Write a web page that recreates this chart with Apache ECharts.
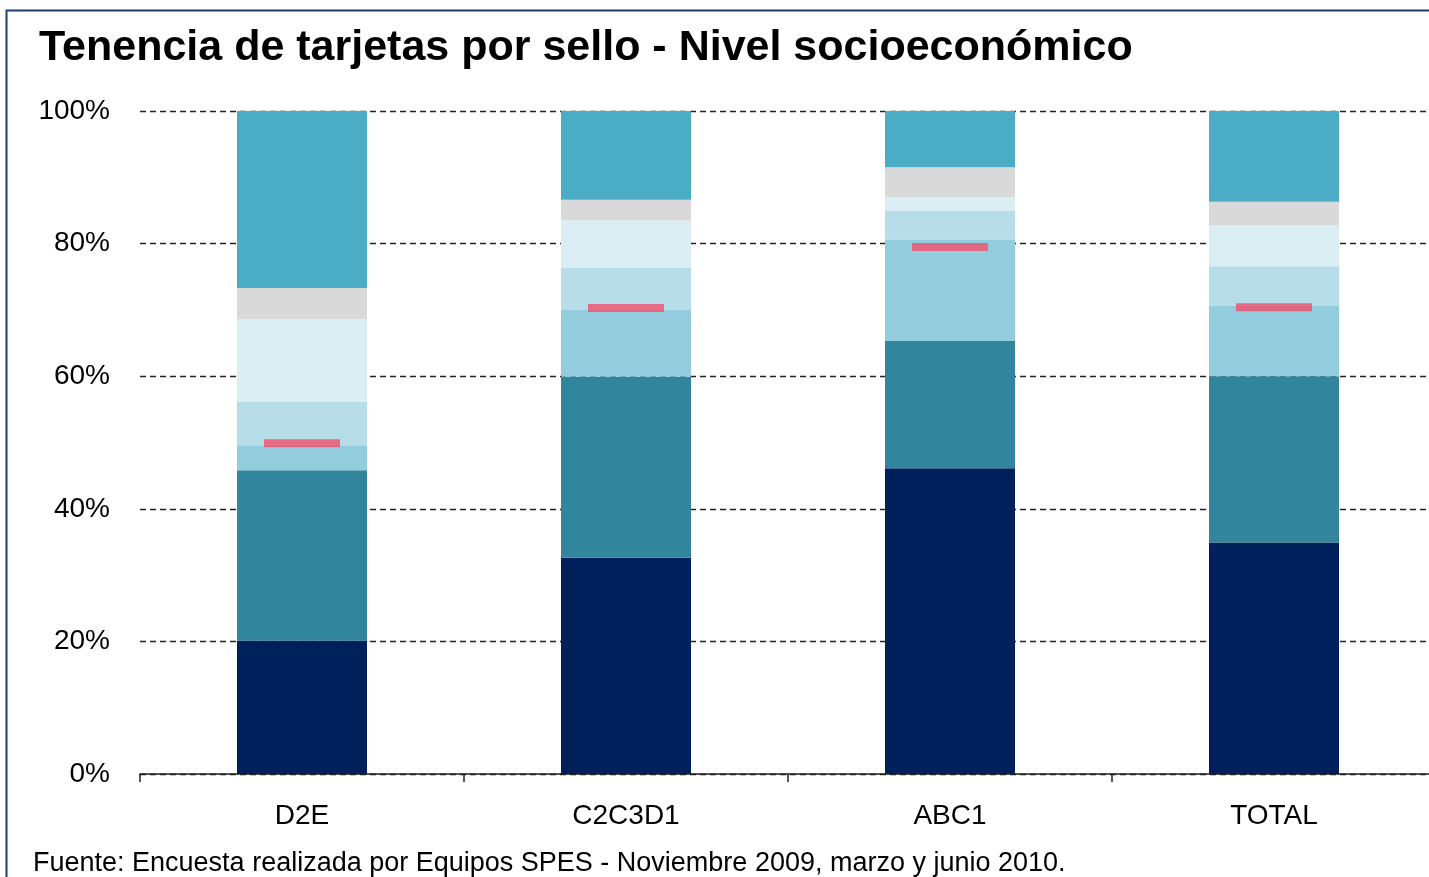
<!DOCTYPE html>
<html>
<head>
<meta charset="utf-8">
<style>
  html, body { margin: 0; padding: 0; background: #fff; overflow: hidden; }
  #main { width: 1436px; height: 877px; }
</style>
<script src="https://cdn.jsdelivr.net/npm/echarts@6/dist/echarts.min.js"></script>
</head>
<body>
<div id="main"></div>
<script>
var categories = ['D2E', 'C2C3D1', 'ABC1', 'TOTAL'];

// stacked segments, bottom to top (% of respondents)
var seg1 = [20.1, 32.6, 46.1, 34.9];
var seg2 = [25.7, 27.3, 19.2, 25.1];
var seg3 = [3.8, 10.1, 15.3, 10.6];
var seg4 = [6.6, 6.4, 4.4, 6.0];
var seg5 = [12.4, 7.1, 2.0, 6.2];
var seg6 = [4.7, 3.1, 4.5, 3.5];
var seg7 = [26.7, 13.4, 8.5, 13.7];

// red marker values
var marker = [49.9, 70.3, 79.5, 70.4];

var yTicks = [0, 20, 40, 60, 80, 100];

var segColors = ['#00205B', '#31859C', '#93CDDD', '#B7DEE8', '#DBEEF4', '#D9D9D9', '#4BACC6'];
var segData = [seg1, seg2, seg3, seg4, seg5, seg6, seg7];

var myChart = echarts.init(document.getElementById('main'));

var series = [];
for (var i = 0; i < segData.length; ++i) {
    series.push({
        name: 'Segmento ' + (i + 1),
        type: 'bar',
        stack: 'total',
        barWidth: 130,
        itemStyle: { color: segColors[i] },
        data: segData[i]
    });
}
series.push({
    name: 'Marcador',
    type: 'scatter',
    symbol: 'rect',
    symbolSize: [76, 8],
    z: 10,
    itemStyle: { color: '#F44E6C' },
    data: marker
});

var option = {
    animation: false,
    textStyle: { fontFamily: 'Liberation Sans, Arial, sans-serif' },
    title: {
        text: 'Tenencia de tarjetas por sello - Nivel socioeconómico',
        left: 34,
        top: 22,
        textStyle: {
            fontFamily: 'Liberation Sans, Arial, sans-serif',
            fontSize: 43,
            fontWeight: 'bold',
            color: '#000'
        }
    },
    graphic: [{
        type: 'rect',
        shape: { x: 6.5, y: 10.5, width: 1440, height: 900 },
        style: { fill: 'none', stroke: '#1F3B78', lineWidth: 2 },
        silent: true
    }, {
        type: 'text',
        left: 33,
        top: 850,
        style: {
            text: 'Fuente: Encuesta realizada por Equipos SPES - Noviembre 2009, marzo y junio 2010.',
            font: '27px "Liberation Sans", Arial, sans-serif',
            fill: '#000'
        }
    }],
    grid: {
        left: 140,
        right: 0,
        top: 111,
        bottom: 103,
        containLabel: false
    },
    xAxis: {
        type: 'category',
        data: categories,
        axisLine: { lineStyle: { color: '#222', width: 1.5 } },
        axisTick: { show: true, length: 8, lineStyle: { color: '#222', width: 1.5 } },
        axisLabel: { fontSize: 28, color: '#000', margin: 28 }
    },
    yAxis: {
        type: 'value',
        min: yTicks[0],
        max: yTicks[yTicks.length - 1],
        interval: 20,
        axisLine: { show: false },
        axisTick: { show: false },
        axisLabel: {
            fontSize: 28,
            color: '#000',
            margin: 30,
            formatter: function(v) { return v + '%'; }
        },
        splitLine: {
            lineStyle: { color: '#222', width: 1.3, type: [6, 4] }
        }
    },
    series: series
};

myChart.setOption(option);
</script>
</body>
</html>
